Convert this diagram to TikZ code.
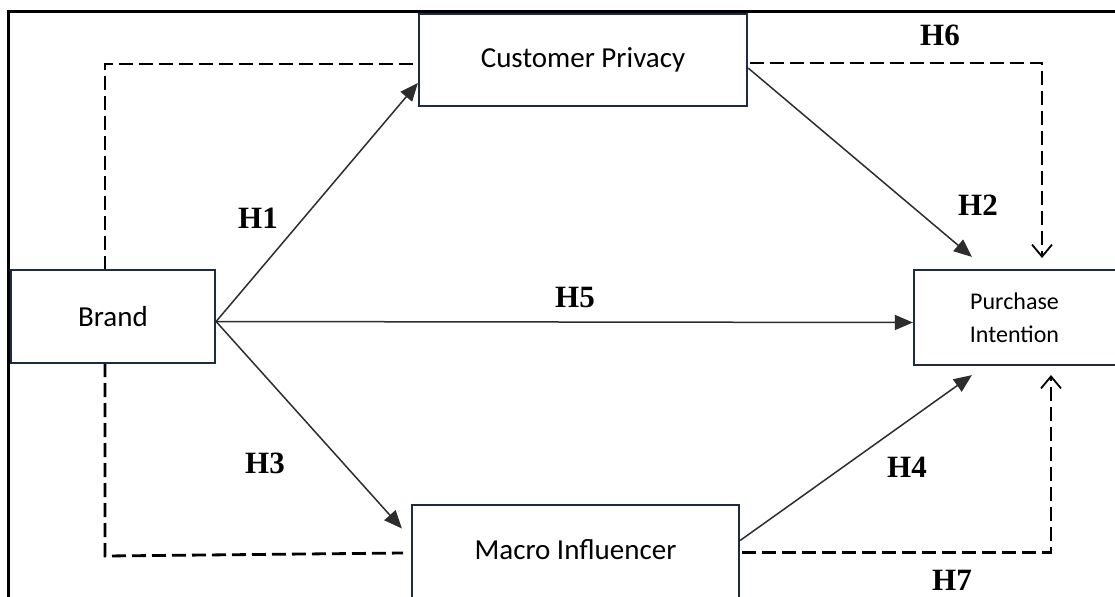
\documentclass[tikz,border=0pt]{standalone}
\usepackage{fontspec}
\setmainfont{Liberation Serif}
\newfontfamily\boxfont{Carlito}
\usetikzlibrary{calc,arrows.meta}
\definecolor{boxline}{RGB}{31,42,68}
\definecolor{pathline}{RGB}{45,45,45}

\begin{document}
\begin{tikzpicture}[x=0.5pt, y=-0.5pt,
  var/.style={draw=boxline, line width=1.1pt, fill=white, inner sep=0pt, font=\boxfont\fontsize{14.5}{17}\selectfont},
  hyp/.style={font=\bfseries\fontsize{15.5}{18}\selectfont, inner sep=1pt},
  direct/.style={draw=pathline, line width=0.75pt, -{Triangle[length=9pt,width=7.5pt]}},
  indirect/.style={draw=black, line width=1.4pt, dash pattern=on 7pt off 3pt, -{Straight Barb[length=6pt,width=10pt,line width=0.9pt]}},
  link/.style={draw=black, line width=1.4pt, dash pattern=on 7pt off 3pt}]
  \useasboundingbox (0,0) rectangle (1115,596);
  \draw[line width=1.5pt] (8,600) -- (8,11) -- (1120,11);
  \draw[link] (105,270) -- (105,64) -- (430,64);
  \draw[link] (105,363) -- (105,556) -- (403,553);
  \node[var, minimum width=164pt, minimum height=46pt] (cp) at (583,60) {Customer Privacy};
  \node[var, minimum width=102pt, minimum height=46.5pt] (brand) at (113,316.5) {Brand};
  \node[var, minimum width=105.5pt, minimum height=47.5pt, align=center,
        font=\boxfont\fontsize{12}{16.5}\selectfont] (pi) at (1019.5,317.5) {\hspace*{-5pt}Purchase\\\hspace*{-5pt}Intention};
  \node[var, minimum width=163.5pt, minimum height=47.5pt] (mi) at (575.5,552.5) {\raisebox{2.5pt}{Macro Influencer}};
  \coordinate (h6end) at (1042,258);
  \coordinate (h7end) at (1051,375);
  \draw[direct] ($(brand.east)+(0,5)$) -- ($(cp.west)+(0,23)$);
  \draw[direct] ($(brand.east)+(0,5)$) -- ($(pi.west)+(0,5)$);
  \draw[direct] ($(brand.east)+(0,5)$) -- ($(mi.west)+(-9,-24)$);
  \draw[direct] ($(cp.east)+(0,8)$) -- ($(pi.north west)+(59,-12)$);
  \draw[direct] ($(mi.east)+(0,-12)$) -- ($(pi.south west)+(59,9)$);
  \draw[indirect] ($(cp.east)+(2,3)$) -| (h6end);
  \draw[indirect] ($(mi.east)+(2,0)$) -| (h7end);
  \node[hyp] (h1) at (258,218) {H1};
  \node[hyp] (h2) at (978,205) {H2};
  \node[hyp] (h3) at (265,463) {H3};
  \node[hyp] (h4) at (907,467) {H4};
  \node[hyp] (h5) at (575,297) {H5};
  \node[hyp] (h6) at (940,35) {H6};
  \node[hyp] (h7) at (952,580) {H7};
\end{tikzpicture}
\end{document}
